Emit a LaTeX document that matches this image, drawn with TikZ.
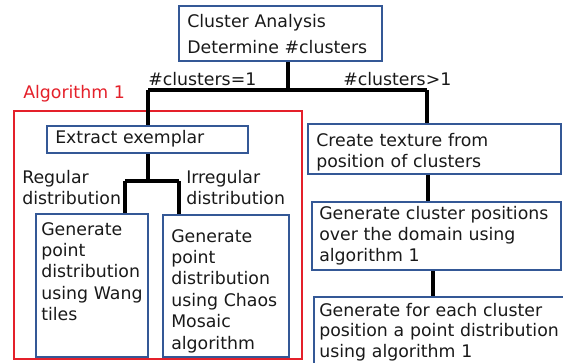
\documentclass[tikz,border=0pt]{standalone}
\usepackage{fontspec}
\setmainfont{DejaVu Sans}
\usetikzlibrary{fit}
\definecolor{boxblue}{RGB}{52,88,150}
\definecolor{algred}{RGB}{228,32,42}
\definecolor{ink}{RGB}{25,25,25}
\begin{document}
\begin{tikzpicture}[x=0.75pt,y=-0.75pt,
  box/.style={draw=boxblue, line width=1.8pt, inner sep=0pt, fit={#1}},
  algframe/.style={draw=algred, line width=1.6pt, inner sep=0pt, fit={#1}},
  txt/.style={anchor=base west, inner sep=0pt, align=left, text width=220pt,
    text=ink, font=\fontsize{13}{16.1}\selectfont},
  link/.style={line width=2.3pt, black},
]
\clip (0,0) rectangle (563,362);

% boxes
\node[box={(179,6) (382,61)}] (top) {};
\node[algframe={(14,111) (302,359)}] (alg) {};
\node[box={(47,126) (248,153)}] (extract) {};
\node[box={(36,214) (148,357)}] (wang) {};
\node[box={(163,215) (289,357)}] (chaos) {};
\node[box={(308,124) (561,174)}] (texture) {};
\node[box={(312,202) (561,270)}] (positions) {};
\node[box={(314,297) (580,390)}] (perpoint) {};

% texts
\node[txt, font=\fontsize{13}{19.5}\selectfont] (ttop) at (187,27) {Cluster Analysis\\Determine \#clusters};
\node[txt] (lone) at (148,85) {\#clusters=1};
\node[txt] (lmany) at (343,85) {\#clusters>1};
\node[txt, text=algred] (lalg) at (23,98) {Algorithm 1};
\node[txt] (textract) at (55,143) {Extract exemplar};
\node[txt] (lreg) at (22,183) {Regular\\distribution};
\node[txt] (lirr) at (186,183) {Irregular\\distribution};
\node[txt] (twang) at (41,235) {Generate\\point\\distribution\\using Wang\\tiles};
\node[txt] (tchaos) at (171,242) {Generate\\point\\distribution\\using Chaos\\Mosaic\\algorithm};
\node[txt] (ttexture) at (316,146) {Create texture from\\position of clusters};
\node[txt] (tpositions) at (319,219) {Generate cluster positions\\over the domain using\\algorithm 1};
\node[txt, font=\fontsize{13}{15.4}\selectfont] (tperpoint) at (319,316) {Generate for each cluster\\position a point distribution\\using algorithm 1};

% junctions
\coordinate (jtop) at (288,90);
\coordinate (jleft) at (148,90);
\coordinate (jright) at (427,90);
\coordinate (jex) at (148,181);
\coordinate (jreg) at (125,181);
\coordinate (jirr) at (179,181);

% connectors
\draw[link] (top.south -| jtop) -- (jtop);
\draw[link] (jleft) -- (jright);
\draw[link] (jleft) -- (extract.north -| jleft);
\draw[link] (jright) -- (texture.north -| jright);
\draw[link] (extract.south -| jex) -- (jex);
\draw[link] (jreg) -- (jirr);
\draw[link] (jreg) -- (wang.north -| jreg);
\draw[link] (jirr) -- (chaos.north -| jirr);
\draw[link] (texture.south -| 428,0) -- (positions.north -| 428,0);
\draw[link] (positions.south -| 433,0) -- (perpoint.north -| 433,0);
\end{tikzpicture}
\end{document}
